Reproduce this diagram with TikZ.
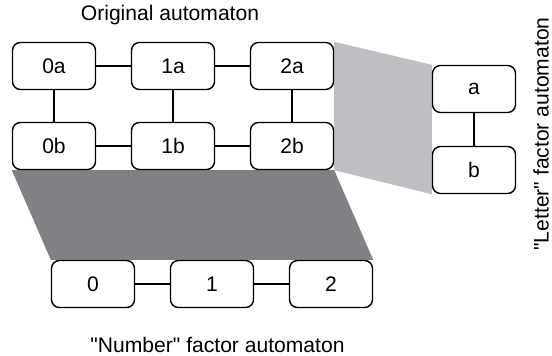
\documentclass[tikz,border=0pt]{standalone}
\usepackage{fontspec}
\setmainfont{Liberation Sans}
\usetikzlibrary{backgrounds}
\definecolor{projLight}{RGB}{190,191,194}
\definecolor{projDark}{RGB}{128,129,132}

\begin{document}
\begin{tikzpicture}[
  font=\fontsize{12}{14}\selectfont,
  st/.style={
    draw=black,
    fill=white,
    rounded corners=4.5pt,
    minimum width=16.6mm,
    minimum height=9.4mm,
    inner sep=0pt,
    line width=0.8pt,
  },
  link/.style={
    draw=black,
    line width=0.8pt,
  },
]
  \useasboundingbox (0,0) rectangle (11.04,7.1);

  \node at (3.4,6.8) {Original automaton};

  \node[st] (0a) at (1.08,5.78) {0a};
  \node[st] (1a) at (3.46,5.78) {1a};
  \node[st] (2a) at (5.84,5.78) {2a};
  \node[st] (0b) at (1.08,4.18) {0b};
  \node[st] (1b) at (3.46,4.18) {1b};
  \node[st] (2b) at (5.84,4.18) {2b};

  \node[st] (a) at (9.48,5.32) {a};
  \node[st] (b) at (9.48,3.70) {b};
  \node[rotate=90, inner sep=1pt] at (10.82,4.42)
    {\textquotedbl Letter\textquotedbl{} factor automaton};

  \node[st] (n0) at (1.86,1.42) {0};
  \node[st] (n1) at (4.24,1.42) {1};
  \node[st] (n2) at (6.62,1.42) {2};
  \node at (4.35,0.2) {\textquotedbl Number\textquotedbl{} factor automaton};

  \begin{scope}[on background layer]
    \fill[projLight] (2a.north east) -- (a.north west)
      -- (b.south west) -- (2b.south east) -- cycle;
    \fill[projDark] (0b.south west) -- (2b.south east)
      -- (n2.north east) -- (n0.north west) -- cycle;
  \end{scope}

  \draw[link] (0a) -- (1a);
  \draw[link] (1a) -- (2a);
  \draw[link] (0b) -- (1b);
  \draw[link] (1b) -- (2b);
  \draw[link] (0a) -- (0b);
  \draw[link] (1a) -- (1b);
  \draw[link] (2a) -- (2b);
  \draw[link] (a) -- (b);
  \draw[link] (n0) -- (n1);
  \draw[link] (n1) -- (n2);

\end{tikzpicture}
\end{document}
